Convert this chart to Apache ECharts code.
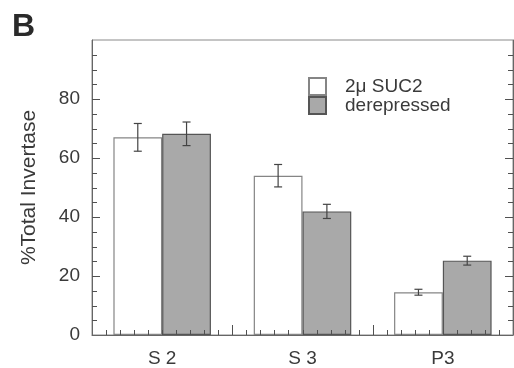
<!DOCTYPE html>
<html>
<head>
<meta charset="utf-8">
<script src="https://cdn.jsdelivr.net/npm/echarts@6/dist/echarts.min.js"></script>
<style>
html,body{margin:0;padding:0;background:#fff;}
#chart{width:514px;height:368px;}
</style>
</head>
<body>
<div id="chart"></div>
<script>
const categories = ['S 2', 'S 3', 'P3'];
const suc2Values = [67, 54, 14.5];
const suc2Errors = [4.7, 3.8, 1.0];
const derepValues = [68.2, 41.9, 25.2];
const derepErrors = [4.0, 2.4, 1.5];
const yTickValues = [0, 20, 40, 60, 80];
const seriesNames = ['2\u03bc SUC2', 'derepressed'];

const FONT = 'Liberation Sans, Arial, Helvetica, sans-serif';
const TEXT = '#3a3a3a';
const AXIS = '#666';
const TICK = '#505050';
const CAT_GAP = 0.305;
const Y_MAX = 100, Y_MINOR = 5, X_MINOR_PER_CAT = 10;

function errorSeries(values, errors, side) {
  return {
    type: 'custom',
    z: 5,
    silent: true,
    data: values.map((v, i) => [i, v, errors[i]]),
    renderItem: function (params, api) {
      const i = api.value(0), v = api.value(1), e = api.value(2);
      const band = api.size([1, 0])[0];
      const barW = band * (1 - CAT_GAP) / 2;
      const c = api.coord([i, v]);
      const x = c[0] + side * barW / 2;
      const top = api.coord([i, v + e])[1];
      const bot = api.coord([i, v - e])[1];
      const cap = 4;
      const style = { stroke: '#444', lineWidth: 1.2 };
      return {
        type: 'group',
        children: [
          { type: 'line', shape: { x1: x, y1: top, x2: x, y2: bot }, style: style },
          { type: 'line', shape: { x1: x - cap, y1: top, x2: x + cap, y2: top }, style: style },
          { type: 'line', shape: { x1: x - cap, y1: bot, x2: x + cap, y2: bot }, style: style }
        ]
      };
    }
  };
}

// inward major and minor ticks on all axes, placed through the library's scales
function tickSeries() {
  return {
    type: 'custom', z: 20, silent: true, clip: false,
    data: [[0, 50]],
    renderItem: function (params, api) {
      const x0c = api.coord([0, 0]);
      const band = api.size([1, 0])[0];
      const left = x0c[0] - band / 2;
      const right = left + band * categories.length;
      const bottom = x0c[1];
      const style = { stroke: TICK, lineWidth: 1 };
      const kids = [];
      for (let v = Y_MINOR; v < Y_MAX; v += Y_MINOR) {
        const len = (v % 20 === 0) ? 8 : 5;
        const y = Math.round(api.coord([0, v])[1]) + 0.5;
        kids.push({ type: 'line', shape: { x1: left, y1: y, x2: left + len, y2: y }, style: style });
        kids.push({ type: 'line', shape: { x1: right - len, y1: y, x2: right, y2: y }, style: style });
      }
      for (let k = 1; k < categories.length * X_MINOR_PER_CAT; k++) {
        const len = (k % X_MINOR_PER_CAT === 0) ? 10 : 5;
        const x = Math.round(left + k * band / X_MINOR_PER_CAT) + 0.5;
        kids.push({ type: 'line', shape: { x1: x, y1: bottom - len, x2: x, y2: bottom }, style: style });
      }
      return { type: 'group', children: kids };
    }
  };
}

const chart = echarts.init(document.getElementById('chart'));
chart.setOption({
  backgroundColor: '#ffffff',
  animation: false,
  textStyle: { fontFamily: FONT, color: TEXT },
  title: {
    text: 'B', left: 7, top: 6,
    textStyle: { fontFamily: FONT, fontSize: 32, fontWeight: 'bold', color: '#2a2a2a' }
  },
  legend: {
    orient: 'vertical', left: 308, top: 77, itemGap: 0, padding: 0,
    itemWidth: 17, itemHeight: 17, icon: 'rect',
    data: seriesNames,
    textStyle: { fontFamily: FONT, fontSize: 19, color: TEXT, padding: [0, 0, 0, 14] }
  },
  grid: {
    left: 92, right: 1, top: 40, bottom: 31,
    show: true, borderColor: '#8a8a8a', borderWidth: 1, backgroundColor: 'transparent'
  },
  xAxis: {
    type: 'category', data: categories, position: 'bottom',
    axisLine: { show: true, lineStyle: { color: AXIS } },
    axisTick: { show: false },
    axisLabel: { fontFamily: FONT, fontSize: 19, color: TEXT, margin: 14 },
    z: 10
  },
  yAxis: [
    {
      type: 'value', min: 0, max: Y_MAX, interval: 20,
      name: '%Total Invertase', nameLocation: 'middle', nameGap: 52,
      nameTextStyle: { fontFamily: FONT, fontSize: 21, color: TEXT },
      axisLine: { show: true, lineStyle: { color: AXIS } },
      axisTick: { show: false },
      splitLine: { show: false },
      axisLabel: {
        fontFamily: FONT, fontSize: 19, color: TEXT, margin: 12,
        formatter: v => (yTickValues.indexOf(v) >= 0 ? String(v) : '')
      },
      z: 10
    },
    {
      type: 'value', min: 0, max: Y_MAX, interval: 20, position: 'right',
      axisLine: { show: true, lineStyle: { color: AXIS } },
      axisTick: { show: false },
      splitLine: { show: false },
      axisLabel: { show: false },
      z: 10
    }
  ],
  series: [
    {
      name: seriesNames[0], type: 'bar', data: suc2Values,
      barGap: '0%', barCategoryGap: '30.5%',
      itemStyle: { color: '#ffffff', borderColor: '#858585', borderWidth: 1.2 }
    },
    {
      name: seriesNames[1], type: 'bar', data: derepValues,
      barGap: '0%', barCategoryGap: '30.5%',
      itemStyle: { color: '#a9a9a9', borderColor: '#555555', borderWidth: 1.2 }
    },
    errorSeries(suc2Values, suc2Errors, -1),
    errorSeries(derepValues, derepErrors, 1),
    tickSeries()
  ]
});
</script>
</body>
</html>
